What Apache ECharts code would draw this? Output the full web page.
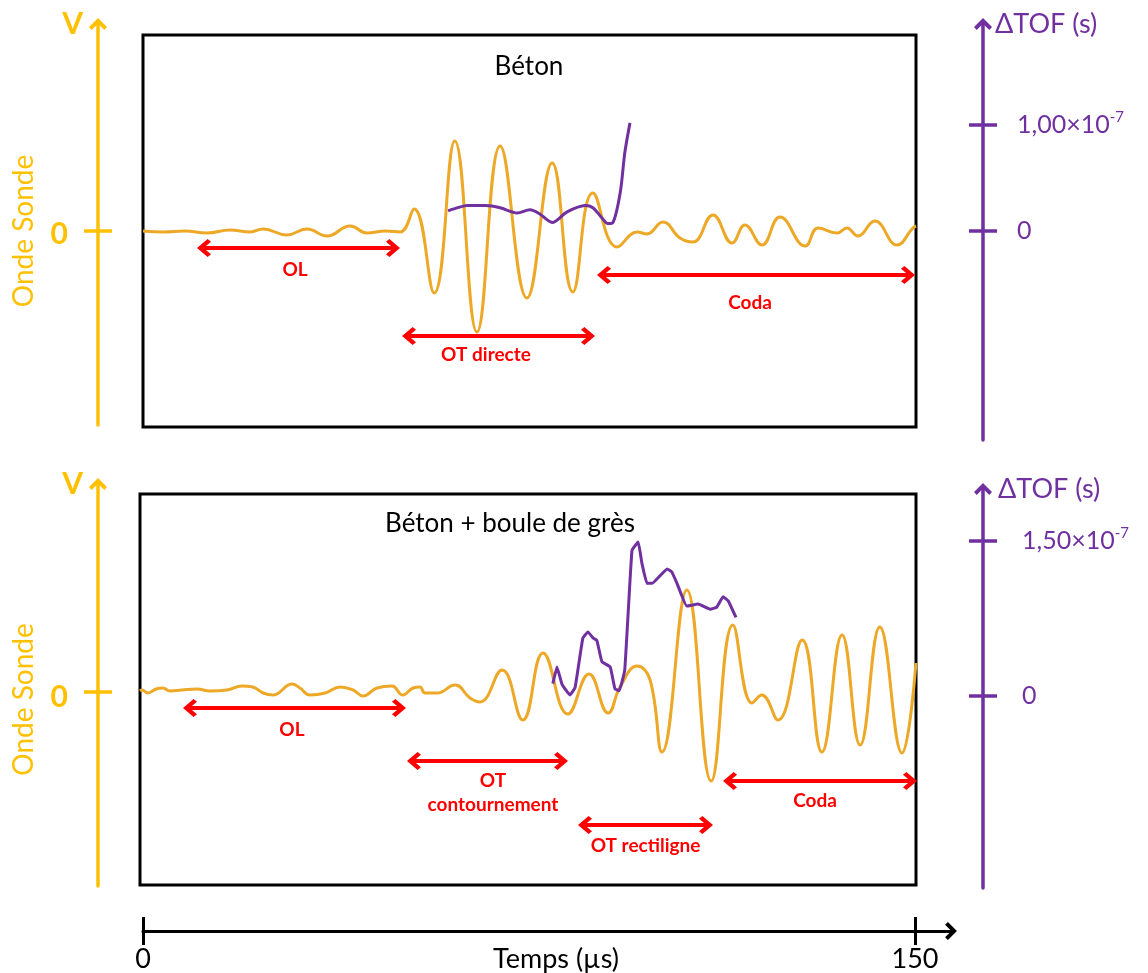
<!DOCTYPE html>
<html>
<head>
<meta charset="utf-8">
<script src="https://cdn.jsdelivr.net/npm/echarts@6.0.0/dist/echarts.min.js"></script>
<style>
html,body{margin:0;padding:0;background:#fff;}
#c{width:1148px;height:973px;}
</style>
</head>
<body>
<div id="c"></div>
<script>
// ---------------- DATA ----------------
// Panel 1 : Béton  (time in µs, probe wave in arbitrary units)
const waveTopT = [0, 3.9, 8.1, 12.4, 16.9, 20.8, 23.3, 27.9, 31.8, 35.7, 40.2, 43.5, 47.0, 49.9, 52.6, 56.5, 60.5, 64.8, 69.3, 74.5, 79.4, 83.4, 87.3, 92.0, 95.9, 97.8, 100.9, 104.2, 106.7, 110.6, 114.3, 116.8, 120.1, 123.6, 128.5, 131.0, 134.7, 136.6, 138.7, 142.0, 146.3, 149.4, 150];
const waveTopV = [0, -0.01, 0, -0.02, 0.01, -0.01, 0.02, -0.04, 0.02, -0.05, 0.05, -0.02, 0, -0.01, 0.22, -0.62, 0.90, -1.01, 0.85, -0.67, 0.68, -0.61, 0.38, -0.16, -0.01, -0.03, 0.09, -0.07, -0.11, 0.16, -0.12, 0.06, -0.14, 0.14, -0.15, 0.03, -0.02, 0.03, -0.05, 0.10, -0.14, 0.03, 0.05];
// ΔTOF, in units of 1e-7 s
const tofTopT = [59.2, 61.1, 62.9, 66.4, 69.3, 72.6, 75.1, 77.0, 79.4, 82.3, 85.8, 87.3, 89.1, 90.2, 91.2, 92.6, 93.5, 94.5];
const tofTopV = [0.19, 0.22, 0.24, 0.24, 0.22, 0.17, 0.20, 0.16, 0.08, 0.18, 0.24, 0.22, 0.12, 0.07, 0.08, 0.36, 0.74, 1.02];

// Panel 2 : Béton + boule de grès
const waveBotT = [0, 0.4, 1.5, 3.1, 4.4, 5.8, 8.1, 11.0, 13.5, 16.8, 19.7, 21.8, 23.8, 25.7, 29.4, 30.9, 32.9, 35.8, 38.7, 41.2, 43.1, 45.8, 48.7, 50.8, 52.8, 54.1, 55.1, 57.4, 60.9, 63.8, 65.7, 70.0, 74.0, 77.9, 82.7, 86.8, 90.5, 92.8, 96.1, 98.6, 100.9, 105.7, 110.4, 114.6, 118.3, 120.2, 123.3, 128.0, 131.8, 135.7, 139.2, 143.0, 147.3, 150];
const waveBotV = [0.01, 0.02, -0.01, 0.03, 0.04, 0.01, 0.02, 0.03, 0.01, 0.02, 0.06, 0.05, -0.01, -0.03, 0.08, 0.04, -0.03, -0.01, 0.05, 0.02, -0.04, 0.04, 0.06, -0.03, 0.04, 0.05, -0.01, -0.01, 0.07, -0.06, -0.10, 0.22, -0.28, 0.39, -0.22, 0.18, -0.21, 0.05, 0.26, 0.12, -0.60, 1.02, -0.89, 0.67, -0.11, -0.03, -0.28, 0.52, -0.60, 0.57, -0.53, 0.65, -0.61, 0.29];
const tofBotT = [79.8, 80.6, 81.6, 83.1, 84.1, 85.6, 86.6, 87.6, 88.3, 89.3, 90.9, 91.8, 92.6, 93.7, 95.1, 96.3, 97.0, 98.0, 99.0, 101.9, 102.8, 103.8, 105.7, 107.9, 110.2, 111.5, 112.7, 113.7, 115.2];
const tofBotV = [0.12, 0.28, 0.11, 0.01, 0.08, 0.56, 0.62, 0.56, 0.54, 0.33, 0.28, 0.07, 0.05, 0.25, 1.41, 1.49, 1.29, 1.09, 1.09, 1.23, 1.20, 1.09, 0.87, 0.89, 0.84, 0.86, 0.96, 0.92, 0.76];

// Wave windows (double arrows): label, start (µs), end (µs), level (wave units)
const zonesTopNames = ['OL', 'OT directe', 'Coda'];
const zonesTopStart = [11.84, 51.62, 89.46];
const zonesTopEnd   = [48.51, 86.35, 148.45];
const zonesTopLevel = [-0.17, -1.05, -0.44];
const zonesBotNames = ['OL', 'OT\ncontournement', 'OT rectiligne', 'Coda'];
const zonesBotStart = [9.66, 52.96, 86.02, 114.05];
const zonesBotEnd   = [50.06, 81.38, 109.41, 148.84];
const zonesBotLevel = [-0.16, -0.69, -1.33, -0.89];

// Axis ticks and labels
const timeTicks = [0, 150];
const timeLabels = ['0', '150'];
const waveTicks = [0];
const waveLabels = ['0'];
const tofTopTicks = [0, 1];
const tofTopLabels = ['0', '1,00×10^-7'];
const tofBotTicks = [0, 1.5];
const tofBotLabels = ['0', '1,50×10^-7'];
const titles = ['Béton', 'Béton + boule de grès'];

// ---------------- STYLE ----------------
const ORANGE_AXIS = '#FFC000', ORANGE = '#ECA826', PURPLE = '#7030A0', RED = '#FF0000';
const FONT = 'Lato';
const CHEVRON = 'path://M50,0 L100,50 L85,66 L50,31 L15,66 L0,50 Z';
// label layout for zone arrows (distance below line, padding for centring)
const zoneLayoutTop = [{distance: 10, padding: [0, 7, 0, 0]}, {distance: 7, padding: [0, 25, 0, 0]}, {distance: 16, padding: [0, 12, 0, 0]}];
const zoneLayoutBot = [{distance: 10, padding: [0, 5, 0, 0]}, {distance: 8, padding: [0, 0, 0, 11]}, {distance: 9, padding: [0, 0, 0, 0]}, {distance: 8, padding: [0, 10, 0, 0]}];

const zip = (a, b) => a.map((t, i) => [t, b[i]]);

function zones(names, s, e, lv, layout) {
  return names.map((n, i) => [
    {name: n, coord: [s[i], lv[i]], label: {distance: layout[i].distance, padding: layout[i].padding}},
    {coord: [e[i], lv[i]]}
  ]);
}
function markLineOf(data) {
  return {
    silent: true, animation: false,
    symbol: [CHEVRON, CHEVRON], symbolSize: [18, 14],
    lineStyle: {color: RED, width: 4, type: 'solid'},
    label: {show: true, position: 'insideMiddleBottom', formatter: '{b}', color: RED,
            fontFamily: FONT, fontWeight: 'bold', fontSize: 19, lineHeight: 24},
    emphasis: {disabled: true},
    data: data
  };
}
function labelFor(ticks, labels) {
  return function (v) {
    const i = ticks.findIndex(t => Math.abs(t - v) < 1e-9);
    const s = i >= 0 ? labels[i] : '';
    const parts = s.split('^');
    return parts.length > 1 ? '{a|' + parts[0] + '}{s|' + parts[1] + '}' : '{a|' + s + '}';
  };
}
function visibleY(grid, pos, min, max, color, ticks, labels, lab, name, nameStyle) {
  const main = {
    gridIndex: grid, type: 'value', position: pos, min: min, max: max, offset: 0,
    axisLine: {show: true, onZero: false, symbol: ['none', CHEVRON], symbolSize: [18, 14],
               lineStyle: {color: color, width: 3.5}},
    axisTick: {show: true, inside: false, length: 14, customValues: ticks, lineStyle: {color: color, width: 3.5}},
    axisLabel: Object.assign({show: true, customValues: ticks, formatter: labelFor(ticks, labels), color: color}, lab),
    splitLine: {show: false},
    name: name, nameLocation: 'end', nameGap: 0, nameMoveOverlap: false,
    nameTextStyle: Object.assign({color: color, fontFamily: FONT, verticalAlign: 'middle'}, nameStyle)
  };
  const inner = {
    gridIndex: grid, type: 'value', position: pos, min: min, max: max, offset: 0,
    axisLine: {show: false, onZero: false},
    axisTick: {show: true, inside: true, length: 14, customValues: ticks, lineStyle: {color: color, width: 3.5}},
    axisLabel: {show: false}, splitLine: {show: false}
  };
  return [main, inner];
}
const hiddenX = g => ({gridIndex: g, type: 'value', min: 0, max: 1, show: false, axisLine: {onZero: false}});
const boxGrid = (l, t, w, h) => ({left: l, top: t, width: w, height: h, show: true, borderColor: '#000', borderWidth: 3,
  backgroundColor: 'transparent', containLabel: false, outerBoundsMode: 'none'});
const plainGrid = (l, t, w, h) => ({left: l, top: t, width: w, height: h, show: false, containLabel: false, outerBoundsMode: 'none'});

const purpleLab = (margin) => ({margin: margin, rich: {
  a: {fontFamily: FONT, fontSize: 25, color: PURPLE, lineHeight: 30},
  s: {fontFamily: FONT, fontSize: 15, color: PURPLE, lineHeight: 16, verticalAlign: 'top'}}});
const orangeLab = (shift) => ({margin: 30, rich: {a: {fontFamily: FONT, fontSize: 30, fontWeight: 'bold', color: ORANGE_AXIS,
  padding: [shift, 0, 0, 0]}}});

const option = {
  animation: false,
  backgroundColor: '#fff',
  textStyle: {fontFamily: FONT},
  title: [
    {text: titles[0], left: 529, top: 67, padding: 0, textAlign: 'center', textVerticalAlign: 'middle',
     textStyle: {fontFamily: FONT, fontSize: 26, fontWeight: 'normal', color: '#000'}},
    {text: titles[1], left: 510, top: 524, padding: 0, textAlign: 'center', textVerticalAlign: 'middle',
     textStyle: {fontFamily: FONT, fontSize: 26, fontWeight: 'normal', color: '#000'}}
  ],
  grid: [
    boxGrid(143, 35, 773, 392),
    boxGrid(140, 494, 776, 391),
    plainGrid(98, 24, 10, 401),
    plainGrid(973, 24, 10, 416),
    plainGrid(98, 484, 10, 402),
    plainGrid(973, 489, 10, 399),
    plainGrid(143, 929, 808, 2)
  ],
  xAxis: [
    {gridIndex: 0, type: 'value', min: 0, max: 150, show: false, axisLine: {onZero: false}},
    {gridIndex: 1, type: 'value', min: 0, max: 150, show: false, axisLine: {onZero: false}},
    hiddenX(2), hiddenX(3), hiddenX(4), hiddenX(5),
    {gridIndex: 6, type: 'value', position: 'bottom', min: 0, max: 157,
     axisLine: {show: true, onZero: false, symbol: ['none', CHEVRON], symbolSize: [18, 14], lineStyle: {color: '#000', width: 3}},
     axisTick: {show: true, inside: false, length: 14, customValues: timeTicks, lineStyle: {color: '#000', width: 3}},
     axisLabel: {show: true, customValues: timeTicks, margin: 15, color: '#000', fontFamily: FONT, fontSize: 27,
                 formatter: v => timeLabels[timeTicks.indexOf(v)]},
     splitLine: {show: false}},
    {gridIndex: 6, type: 'value', position: 'bottom', min: 0, max: 157,
     axisLine: {show: false, onZero: false},
     axisTick: {show: true, inside: true, length: 14, customValues: timeTicks, lineStyle: {color: '#000', width: 3}},
     axisLabel: {show: false}, splitLine: {show: false},
     name: 'Temps (µs)', nameLocation: 'middle', nameGap: 15, nameMoveOverlap: false,
     nameTextStyle: {color: '#000', fontFamily: FONT, fontSize: 27, verticalAlign: 'top', padding: [0, 0, 0, 18]}}
  ],
  yAxis: [
    // 0: top wave (data), carries the rotated name
    {gridIndex: 0, type: 'value', position: 'left', min: -1.96, max: 1.96, show: true,
     axisLine: {show: false, onZero: false}, axisTick: {show: false}, axisLabel: {show: false}, splitLine: {show: false},
     name: 'Onde Sonde', nameLocation: 'middle', nameRotate: 90, nameGap: 119,
     nameTextStyle: {color: ORANGE_AXIS, fontFamily: FONT, fontSize: 28, verticalAlign: 'middle'}},
    // 1: top ΔTOF (data)
    {gridIndex: 0, type: 'value', position: 'right', min: -1.849, max: 1.849, show: false, axisLine: {onZero: false}},
    // 2: bottom wave (data)
    {gridIndex: 1, type: 'value', position: 'left', min: -1.93, max: 1.98, show: true,
     axisLine: {show: false, onZero: false}, axisTick: {show: false}, axisLabel: {show: false}, splitLine: {show: false},
     name: 'Onde Sonde', nameLocation: 'middle', nameRotate: 90, nameGap: 116,
     nameTextStyle: {color: ORANGE_AXIS, fontFamily: FONT, fontSize: 28, verticalAlign: 'middle', padding: [0, 20, 0, 0]}},
    // 3: bottom ΔTOF (data)
    {gridIndex: 1, type: 'value', position: 'right', min: -1.830, max: 1.955, show: false, axisLine: {onZero: false}},
    // 4,5 top orange visible axis
    ...visibleY(2, 'left', -1.94, 2.07, ORANGE_AXIS, waveTicks, waveLabels, orangeLab(6), 'V',
      {align: 'right', padding: [0, 15, 0, 0], fontSize: 30, fontWeight: 'bold'}),
    // 6,7 top purple visible axis
    ...visibleY(3, 'right', -1.972, 1.953, PURPLE, tofTopTicks, tofTopLabels, purpleLab(34), 'ΔTOF (s)',
      {align: 'left', padding: [0, 0, 0, 12], fontSize: 27}),
    // 8,9 bottom orange visible axis
    ...visibleY(4, 'left', -1.94, 2.08, ORANGE_AXIS, waveTicks, waveLabels, orangeLab(10), 'V',
      {align: 'right', padding: [0, 15, 0, 0], fontSize: 30, fontWeight: 'bold'}),
    // 10,11 bottom purple visible axis
    ...visibleY(5, 'right', -1.859, 2.004, PURPLE, tofBotTicks, tofBotLabels, purpleLab(39), 'ΔTOF (s)',
      {align: 'left', padding: [0, 0, 0, 15], fontSize: 27}),
    // 12 time grid
    {gridIndex: 6, type: 'value', min: 0, max: 1, show: false, axisLine: {onZero: false}}
  ],
  series: [
    {type: 'line', name: 'Onde Sonde (Béton)', xAxisIndex: 0, yAxisIndex: 0, data: zip(waveTopT, waveTopV),
     smooth: 0.45, showSymbol: false, clip: false, lineStyle: {color: ORANGE, width: 3}, itemStyle: {color: ORANGE},
     emphasis: {disabled: true},
     markLine: markLineOf(zones(zonesTopNames, zonesTopStart, zonesTopEnd, zonesTopLevel, zoneLayoutTop))},
    {type: 'line', name: 'ΔTOF (Béton)', xAxisIndex: 0, yAxisIndex: 1, data: zip(tofTopT, tofTopV),
     smooth: 0.3, showSymbol: false, clip: false, lineStyle: {color: PURPLE, width: 3}, itemStyle: {color: PURPLE},
     emphasis: {disabled: true}},
    {type: 'line', name: 'Onde Sonde (Béton + boule de grès)', xAxisIndex: 1, yAxisIndex: 2, data: zip(waveBotT, waveBotV),
     smooth: 0.45, showSymbol: false, clip: false, lineStyle: {color: ORANGE, width: 3}, itemStyle: {color: ORANGE},
     emphasis: {disabled: true},
     markLine: markLineOf(zones(zonesBotNames, zonesBotStart, zonesBotEnd, zonesBotLevel, zoneLayoutBot))},
    {type: 'line', name: 'ΔTOF (Béton + boule de grès)', xAxisIndex: 1, yAxisIndex: 3, data: zip(tofBotT, tofBotV),
     smooth: 0.1, showSymbol: false, clip: false, lineStyle: {color: PURPLE, width: 3}, itemStyle: {color: PURPLE},
     emphasis: {disabled: true}}
  ]
};

const chart = echarts.init(document.getElementById('c'), null, {renderer: 'canvas'});
chart.setOption(option);
</script>
</body>
</html>
